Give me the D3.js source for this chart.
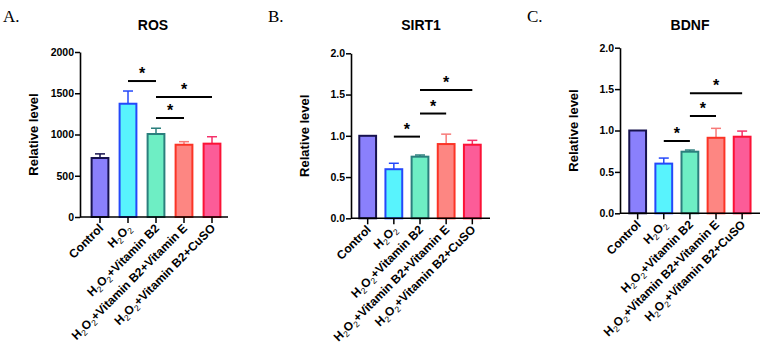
<!DOCTYPE html>
<html>
<head>
<meta charset="utf-8">
<script src="https://cdn.jsdelivr.net/npm/d3@7"></script>
<style>
  body { margin: 0; background: #fff; }
  text { font-family: Arial, "Liberation Sans", sans-serif; }
</style>
</head>
<body>
<svg id="chart"></svg>
<script>
const width = 767;
const height = 356;

// groups shared by all three panels
const groups = ["Control", "H2O2", "H2O2+Vitamin B2", "H2O2+Vitamin B2+Vitamin E", "H2O2+Vitamin B2+CuSO"];

// ROS
const rosMean = [715, 1373, 1006, 876, 889];
const rosErr = [50, 154, 70, 37, 84];
const rosTicks = [0, 500, 1000, 1500, 2000];
const rosSig = [[1, 2, 1648], [2, 3, 1200], [2, 4, 1455]];

// SIRT1
const sirtMean = [1.0, 0.595, 0.747, 0.90, 0.892];
const sirtErr = [0, 0.072, 0.02, 0.12, 0.053];
const sirtTicks = [0, 0.5, 1.0, 1.5, 2.0];
const sirtSig = [[1, 2, 0.99], [2, 3, 1.27], [2, 4, 1.555]];

// BDNF
const bdnfMean = [1.0, 0.60, 0.744, 0.912, 0.925];
const bdnfErr = [0, 0.067, 0.02, 0.114, 0.068];
const bdnfTicks = [0, 0.5, 1.0, 1.5, 2.0];
const bdnfSig = [[1, 2, 0.873], [2, 3, 1.175], [2, 4, 1.449]];

const fills = ["#8a80fc", "#58f3fd", "#6eeec4", "#fd8682", "#fc5c98"];
const strokes = ["#17124e", "#2448fa", "#2b7f7d", "#fb3426", "#fb1236"];
const errColors = ["#17124e", "#2448fa", "#2b7f7d", "#f77a78", "#f5316a"];

const svg = d3.select("#chart")
    .attr("width", width)
    .attr("height", height);

const panels = [
    { letter: "A.", title: "ROS", mean: rosMean, err: rosErr, ticks: rosTicks, sig: rosSig,
      fmt: d3.format("d"), max: 2000, axisX: 80, y0: 217, y1: 52, x0: 86, x1: 226, xEnd: 228, letterX: 3, titleX: 153 },
    { letter: "B.", title: "SIRT1", mean: sirtMean, err: sirtErr, ticks: sirtTicks, sig: sirtSig,
      fmt: d3.format(".1f"), max: 2, axisX: 351, y0: 218.3, y1: 53.3, x0: 354.6, x1: 485.4, xEnd: 490, letterX: 268, titleX: 421 },
    { letter: "C.", title: "BDNF", mean: bdnfMean, err: bdnfErr, ticks: bdnfTicks, sig: bdnfSig,
      fmt: d3.format(".1f"), max: 2, axisX: 620, y0: 213.3, y1: 47.7, x0: 624.6, x1: 755.2, xEnd: 760, letterX: 527, titleX: 690 }
];

// label with subscript 2s
function writeLabel(sel, label) {
    const parts = label.split(/(2)/);
    let prev = "";
    parts.forEach(p => {
        if (p === "") return;
        // the "2" after H or O is a subscript, the one in B2 is not
        if (p === "2" && (prev.endsWith("H") || prev.endsWith("O"))) {
            sel.append("tspan").attr("font-size", "8.5px").attr("baseline-shift", "-3").attr("font-weight", "normal").text("2");
        } else {
            sel.append("tspan").text(p);
        }
        prev = p;
    });
}

panels.forEach(p => {
    const g = svg.append("g");

    const x = d3.scalePoint().domain(groups).range([p.x0, p.x1]).padding(0.5);
    const y = d3.scaleLinear().domain([0, p.max]).range([p.y0, p.y1]);
    const bw = 16.8;

    // panel letter
    svg.append("text")
        .attr("x", p.letterX)
        .attr("y", 22)
        .style("font-family", "'Liberation Serif', 'Times New Roman', serif")
        .style("font-size", "17px")
        .text(p.letter);

    // title
    g.append("text")
        .attr("x", p.titleX)
        .attr("y", 30)
        .attr("text-anchor", "middle")
        .style("font-size", "14px")
        .style("font-weight", "bold")
        .text(p.title);

    // error bars (upward only)
    groups.forEach((d, i) => {
        if (p.err[i] <= 0) return;
        const cx = x(d);
        g.append("line")
            .attr("x1", cx).attr("x2", cx)
            .attr("y1", y(p.mean[i])).attr("y2", y(p.mean[i] + p.err[i]))
            .attr("stroke", errColors[i]).attr("stroke-width", 1.5);
        g.append("line")
            .attr("x1", cx - 5).attr("x2", cx + 5)
            .attr("y1", y(p.mean[i] + p.err[i])).attr("y2", y(p.mean[i] + p.err[i]))
            .attr("stroke", errColors[i]).attr("stroke-width", 1.5);
    });

    // bars
    g.selectAll(".bar")
        .data(groups)
        .enter()
        .append("rect")
        .attr("class", "bar")
        .attr("x", d => x(d) - bw / 2)
        .attr("y", (d, i) => y(p.mean[i]))
        .attr("width", bw)
        .attr("height", (d, i) => p.y0 - y(p.mean[i]))
        .attr("fill", (d, i) => fills[i])
        .attr("stroke", (d, i) => strokes[i])
        .attr("stroke-width", 2);

    // y axis
    const yAxis = d3.axisLeft(y).tickValues(p.ticks).tickFormat(p.fmt).tickSize(5).tickSizeOuter(0);
    const ya = g.append("g")
        .attr("transform", `translate(${p.axisX},0)`)
        .call(yAxis);
    ya.select(".domain").attr("stroke-width", 1.6);
    ya.selectAll(".tick line").attr("stroke-width", 1.5);
    ya.selectAll(".tick text")
        .attr("x", -6)
        .style("font-size", "10.5px")
        .style("font-weight", "bold")
        .style("font-family", "Arial, 'Liberation Sans', sans-serif");

    // x axis line with ticks at bar centers
    g.append("line")
        .attr("x1", p.axisX).attr("x2", p.xEnd)
        .attr("y1", p.y0).attr("y2", p.y0)
        .attr("stroke", "#000").attr("stroke-width", 1.6);
    groups.forEach(d => {
        g.append("line")
            .attr("x1", x(d)).attr("x2", x(d))
            .attr("y1", p.y0).attr("y2", p.y0 + 6)
            .attr("stroke", "#000").attr("stroke-width", 1.5);
    });

    // rotated category labels
    groups.forEach(d => {
        const t = g.append("text")
            .attr("transform", `translate(${x(d) + 4},${p.y0 + 12}) rotate(-45)`)
            .attr("text-anchor", "end")
            .style("font-size", "12px")
            .style("font-weight", "bold");
        writeLabel(t, d);
    });

    // y axis title
    g.append("text")
        .attr("transform", `translate(${p.axisX - 42},${(p.y0 + p.y1) / 2}) rotate(-90)`)
        .attr("text-anchor", "middle")
        .style("font-size", "13px")
        .style("font-weight", "bold")
        .text("Relative level");

    // significance lines
    p.sig.forEach(s => {
        const xa = x(groups[s[0]]), xb = x(groups[s[1]]);
        g.append("line")
            .attr("x1", xa).attr("x2", xb)
            .attr("y1", y(s[2])).attr("y2", y(s[2]))
            .attr("stroke", "#000").attr("stroke-width", 2);
        g.append("text")
            .attr("x", (xa + xb) / 2)
            .attr("y", y(s[2]) - 2)
            .attr("text-anchor", "middle")
            .style("font-size", "16px")
            .style("font-weight", "bold")
            .text("*");
    });
});
</script>
</body>
</html>
